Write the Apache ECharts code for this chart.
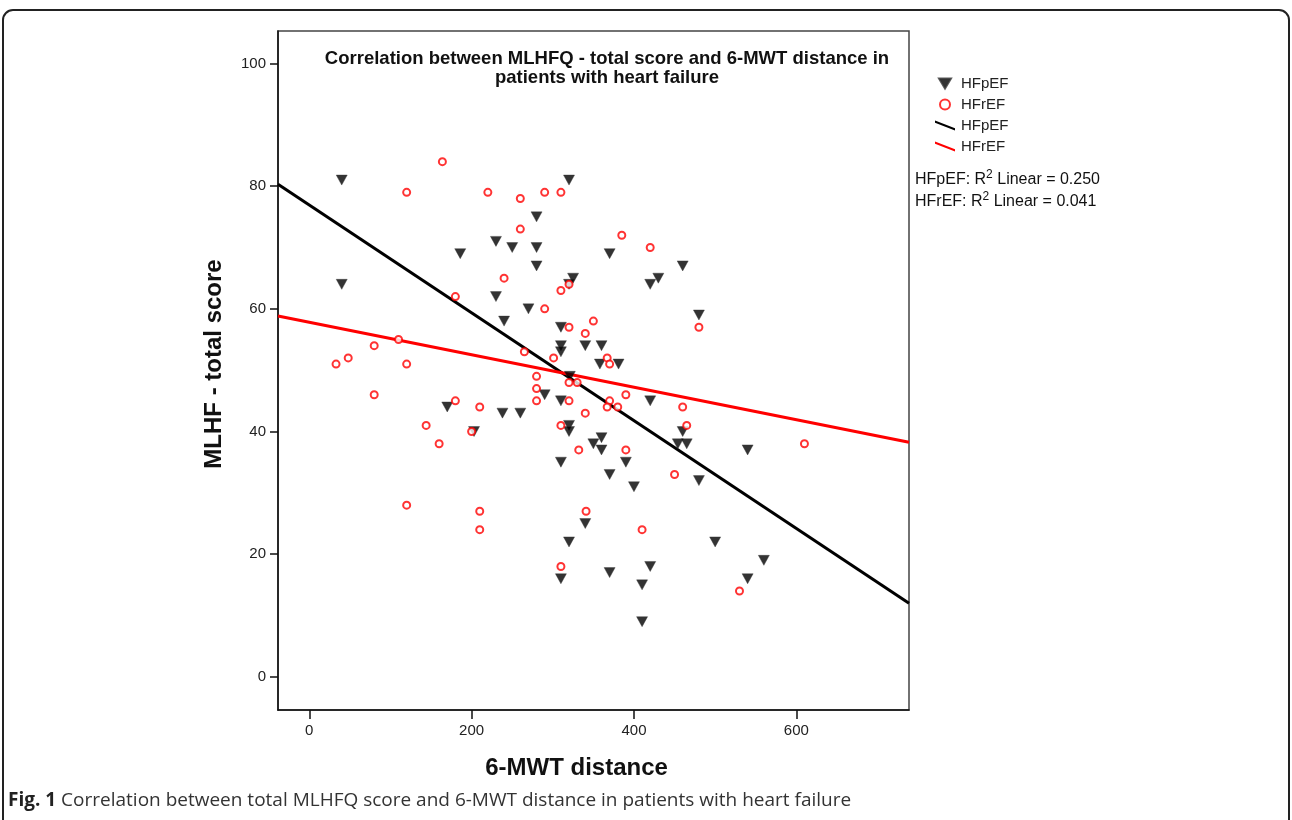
<!DOCTYPE html>
<html>
<head>
<meta charset="utf-8">
<script src="https://cdn.jsdelivr.net/npm/echarts@6/dist/echarts.min.js"></script>
<style>
  html, body { margin: 0; padding: 0; background: #fff; }
  #chart { width: 1292px; height: 820px; }
</style>
</head>
<body>
<div id="chart"></div>
<script>
// HFpEF (triangles)
const hfpefDist = [40, 320, 280, 230, 250, 280, 186, 370, 280, 40, 325, 320, 230, 270, 240, 310, 310, 310,
  340, 360, 358, 381, 321, 290, 310, 260, 238, 170, 320, 320, 203, 360, 350, 360, 310, 390, 370, 400,
  420, 460, 430, 420, 480, 460, 454, 465, 540, 480, 340, 320, 310, 500, 560, 420, 370, 540, 410, 410]
const hfpefScore = [81, 81, 75, 71, 70, 70, 69, 69, 67, 64, 65, 64, 62, 60, 58, 57, 54, 53,
  54, 54, 51, 51, 49, 46, 45, 43, 43, 44, 41, 40, 40, 39, 38, 37, 35, 35, 33, 31,
  45, 67, 65, 64, 59, 40, 38, 38, 37, 32, 25, 22, 16, 22, 19, 18, 17, 16, 15, 9]

// HFrEF (circles)
const hfrefDist = [164, 120, 220, 260, 290, 310, 260, 385, 420, 240, 310, 320, 180, 290, 320, 350, 340, 480,
  80, 110, 48, 33, 120, 265, 301, 367, 370, 280, 320, 330, 280, 280, 320, 390, 370, 367, 380, 340,
  460, 465, 80, 180, 210, 310, 144, 200, 160, 332, 390, 610, 450, 120, 210, 210, 341, 410, 310, 530]
const hfrefScore = [84, 79, 79, 78, 79, 79, 73, 72, 70, 65, 63, 64, 62, 60, 57, 58, 56, 57,
  54, 55, 52, 51, 51, 53, 52, 52, 51, 49, 48, 48, 47, 45, 45, 46, 45, 44, 44, 43,
  44, 41, 46, 45, 44, 41, 41, 40, 38, 37, 37, 38, 33, 28, 27, 24, 27, 24, 18, 14]

// linear fits
const fitGroups = ['HFpEF', 'HFrEF']
const fitIntercept = [76.95, 57.82]
const fitSlope = [-0.0879, -0.0265]
const rSquared = ['0.250', '0.041']
const fitColors = ['#000000', '#ff0000']

const xTicks = [0, 200, 400, 600]
const yTicks = [0, 20, 40, 60, 80, 100]
const xRange = [-38.5, 738.8]
const yRange = [-5.4, 105.3]

const font = '"Liberation Sans", Arial, sans-serif'
const lineIcon = 'path://M0,0 L26,10 L26,13 L0,3 Z'
const downTriangle = 'path://M0,0 L12,0 L6,10 Z'

const chart = echarts.init(document.getElementById('chart'))

const fitSeries = fitGroups.map((g, i) => ({
  name: g + ' fit',
  type: 'line',
  symbol: 'none',
  z: 1,
  silent: true,
  itemStyle: { color: fitColors[i] },
  lineStyle: { color: fitColors[i], width: 3 },
  data: xRange.map(x => [x, fitIntercept[i] + fitSlope[i] * x])
}))

const option = {
  animation: false,
  backgroundColor: '#fff',
  title: {
    text: 'Correlation between MLHFQ - total score and 6-MWT distance in\npatients with heart failure',
    left: 602,
    top: 44,
    textAlign: 'center',
    textStyle: {
      fontFamily: font,
      fontSize: 18.5,
      fontWeight: 'bold',
      color: '#111',
      lineHeight: 19
    }
  },
  grid: {
    left: 278,
    top: 31,
    right: 383,
    bottom: 110,
    show: true,
    borderColor: '#444',
    borderWidth: 1.5,
    backgroundColor: '#fff'
  },
  legend: {
    orient: 'vertical',
    left: 930,
    top: 71,
    itemWidth: 22,
    itemHeight: 10,
    itemGap: 6,
    textStyle: { fontFamily: font, fontSize: 15, color: '#222' },
    formatter: name => name.replace(' fit', ''),
    data: [
      { name: 'HFpEF', icon: downTriangle },
      { name: 'HFrEF' },
      { name: 'HFpEF fit', icon: lineIcon },
      { name: 'HFrEF fit', icon: lineIcon }
    ]
  },
  xAxis: {
    type: 'value',
    min: xRange[0],
    max: xRange[1],
    name: '6-MWT distance',
    nameLocation: 'middle',
    nameGap: 46,
    nameTextStyle: {
      fontFamily: font, fontSize: 24, fontWeight: 'bold', color: '#111',
      padding: [0, 34, 0, 0]
    },
    splitLine: { show: false },
    axisLine: { show: true, onZero: false, lineStyle: { color: '#111', width: 1.5 } },
    axisTick: { show: true, length: 9, customValues: xTicks, lineStyle: { color: '#111', width: 1.5 } },
    axisLabel: { customValues: xTicks, margin: 13, fontFamily: font, fontSize: 15, color: '#222' }
  },
  yAxis: {
    type: 'value',
    min: yRange[0],
    max: yRange[1],
    name: 'MLHF - total score',
    nameLocation: 'middle',
    nameGap: 52,
    nameRotate: 90,
    nameTextStyle: {
      fontFamily: font, fontSize: 24, fontWeight: 'bold', color: '#111',
      padding: [0, 0, 0, 13]
    },
    splitLine: { show: false },
    axisLine: { show: true, onZero: false, lineStyle: { color: '#111', width: 1.5 } },
    axisTick: { show: true, length: 8, customValues: yTicks, lineStyle: { color: '#111', width: 1.5 } },
    axisLabel: { customValues: yTicks, margin: 12, fontFamily: font, fontSize: 15, color: '#222' }
  },
  graphic: [
    {
      type: 'rect',
      shape: { x: 3, y: 10, width: 1286, height: 840, r: 10 },
      style: { fill: 'none', stroke: '#222', lineWidth: 2 },
      silent: true
    },
    {
      type: 'text',
      left: 915,
      top: 169,
      style: {
        text: fitGroups.map((g, i) => g + ': R{sup|2} Linear = ' + rSquared[i]).join('\n'),
        fontFamily: font,
        fontSize: 16,
        lineHeight: 22,
        fill: '#111',
        rich: { sup: { fontSize: 12, verticalAlign: 'top', padding: [0, 0, 7, 0], fontFamily: font } }
      }
    },
    {
      type: 'text',
      left: 8,
      top: 791,
      style: {
        text: '{b|Fig. 1} Correlation between total MLHFQ score and 6-MWT distance in patients with heart failure',
        fontFamily: '"Open Sans", sans-serif',
        fontSize: 19,
        fill: '#333',
        rich: { b: { fontWeight: 'bold', fontFamily: '"Open Sans", sans-serif', fontSize: 19, fill: '#222' } }
      }
    }
  ],
  series: [
    ...fitSeries,
    {
      name: 'HFpEF',
      type: 'scatter',
      z: 3,
      symbol: 'triangle',
      symbolRotate: 180,
      symbolSize: [11, 10],
      itemStyle: { color: '#000', borderColor: '#333', borderWidth: 0.5 },
      data: hfpefDist.map((d, i) => [d, hfpefScore[i]])
    },
    {
      name: 'HFrEF',
      type: 'scatter',
      z: 4,
      symbol: 'emptyCircle',
      symbolSize: 7,
      itemStyle: { color: '#ff0000', borderColor: '#ff0000', borderWidth: 2.4 },
      data: hfrefDist.map((d, i) => [d, hfrefScore[i]])
    }
  ]
}

chart.setOption(option)
</script>
</body>
</html>
